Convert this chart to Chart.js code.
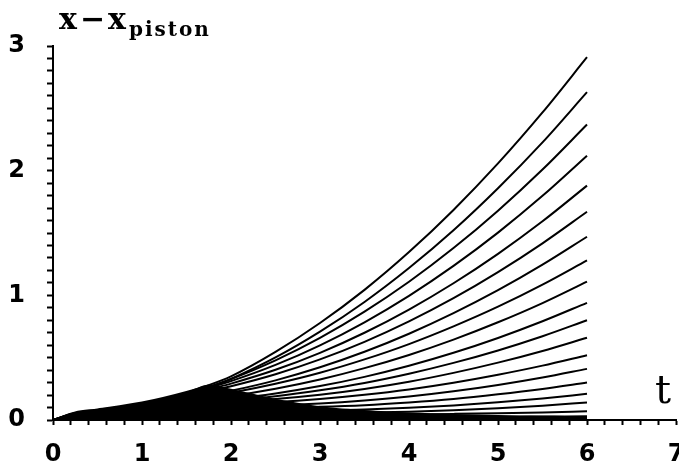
<!DOCTYPE html>
<html>
<head>
<meta charset="utf-8">
<script src="https://cdn.jsdelivr.net/npm/chart.js"></script>
<style>
  body { margin: 0; background: #fff; }
  #wrap { position: relative; width: 679px; height: 467px; }
  .lbl { position: absolute; font-family: "DejaVu Serif", serif; color: #000; line-height: 1; white-space: nowrap; }
</style>
</head>
<body>
<div id="wrap">
  <canvas id="myChart" width="679" height="467"></canvas>
  <div class="lbl" style="left:59px; top:4px; font-size:30px; font-weight:bold;">x<span style="margin:0 3px;">&minus;</span>x<span style="font-size:20px; letter-spacing:2px; margin-left:3px; position:relative; top:7px;">piston</span></div>
  <div class="lbl" style="left:655px; top:369px; font-size:40px;">t</div>
</div>
<script>
// time samples (t) shared by every curve
var tValues = [0, 0.25, 0.5, 1, 1.5, 1.75, 2, 2.5, 3, 3.5, 4, 4.5, 5, 5.5, 6];

// x - x_piston for each curve (top curve first)
var curve0  = [0, 0.060, 0.085, 0.140, 0.225, 0.280, 0.350, 0.546, 0.778, 1.044, 1.347, 1.685, 2.058, 2.467, 2.91];
var curve1  = [0, 0.053, 0.076, 0.125, 0.200, 0.254, 0.329, 0.502, 0.709, 0.947, 1.219, 1.522, 1.859, 2.227, 2.63];
var curve2  = [0, 0.056, 0.079, 0.131, 0.210, 0.266, 0.329, 0.479, 0.659, 0.869, 1.109, 1.379, 1.679, 2.009, 2.37];
var curve3  = [0, 0.054, 0.077, 0.127, 0.204, 0.258, 0.312, 0.442, 0.599, 0.784, 0.996, 1.236, 1.503, 1.798, 2.12];
var curve4  = [0, 0.052, 0.073, 0.120, 0.194, 0.245, 0.292, 0.403, 0.539, 0.700, 0.886, 1.097, 1.333, 1.594, 1.88];
var curve5  = [0, 0.049, 0.069, 0.114, 0.183, 0.232, 0.271, 0.367, 0.486, 0.627, 0.791, 0.977, 1.186, 1.417, 1.67];
var curve6  = [0, 0.042, 0.059, 0.098, 0.157, 0.199, 0.234, 0.318, 0.423, 0.547, 0.692, 0.857, 1.041, 1.246, 1.47];
var curve7  = [0, 0.040, 0.057, 0.094, 0.151, 0.191, 0.219, 0.291, 0.379, 0.486, 0.609, 0.751, 0.909, 1.086, 1.28];
var curve8  = [0, 0.036, 0.050, 0.083, 0.133, 0.169, 0.192, 0.251, 0.325, 0.416, 0.522, 0.645, 0.784, 0.938, 1.11];
var curve9  = [0, 0.032, 0.046, 0.075, 0.121, 0.153, 0.169, 0.213, 0.272, 0.346, 0.435, 0.539, 0.658, 0.792, 0.94];
var curve10 = [0, 0.031, 0.044, 0.072, 0.116, 0.147, 0.159, 0.191, 0.238, 0.297, 0.371, 0.458, 0.558, 0.672, 0.80];
var curve11 = [0, 0.029, 0.042, 0.069, 0.110, 0.140, 0.147, 0.169, 0.203, 0.249, 0.307, 0.378, 0.460, 0.554, 0.66];
var curve12 = [0, 0.027, 0.038, 0.062, 0.100, 0.127, 0.131, 0.144, 0.168, 0.202, 0.245, 0.299, 0.363, 0.436, 0.52];
var curve13 = [0, 0.023, 0.033, 0.054, 0.088, 0.111, 0.111, 0.117, 0.132, 0.156, 0.188, 0.230, 0.281, 0.341, 0.41];
var curve14 = [0, 0.022, 0.031, 0.051, 0.082, 0.104, 0.101, 0.099, 0.106, 0.119, 0.141, 0.169, 0.206, 0.249, 0.30];
var curve15 = [0, 0.018, 0.026, 0.042, 0.068, 0.086, 0.081, 0.077, 0.077, 0.085, 0.098, 0.117, 0.142, 0.173, 0.21];
var curve16 = [0, 0.017, 0.024, 0.039, 0.063, 0.080, 0.073, 0.064, 0.060, 0.061, 0.067, 0.078, 0.094, 0.115, 0.14];
var curve17 = [0, 0.013, 0.018, 0.030, 0.047, 0.060, 0.055, 0.047, 0.042, 0.043, 0.045, 0.049, 0.054, 0.061, 0.07];
var curve18 = [0, 0.008, 0.012, 0.020, 0.032, 0.040, 0.035, 0.028, 0.022, 0.021, 0.022, 0.024, 0.026, 0.028, 0.03];
var curve19 = [0, 0.004, 0.006, 0.010, 0.016, 0.020, 0.018, 0.014, 0.011, 0.010, 0.010, 0.010, 0.010, 0.010, 0.01];

// the solid black region where the curves crowd together
var denseT = [0, 0.1, 0.2, 0.4, 0.6, 0.8, 1.0, 1.2, 1.5, 1.75, 2.0, 2.5, 3.0, 3.5, 4.0, 5.0, 6.0];
var denseY = [0, 0.03, 0.055, 0.075, 0.09, 0.11, 0.14, 0.17, 0.225, 0.285, 0.25, 0.17, 0.11, 0.08, 0.06, 0.04, 0.03];

var xTickLabels = ['0', '1', '2', '3', '4', '5', '6', '7'];
var yTickLabels = ['0', '1', '2', '3'];

var curves = [curve0, curve1, curve2, curve3, curve4, curve5, curve6, curve7, curve8, curve9,
              curve10, curve11, curve12, curve13, curve14, curve15, curve16, curve17, curve18, curve19];

function toPoints(xs, ys) {
    return xs.map(function (x, i) { return { x: x, y: ys[i] }; });
}

function majorLabel(labels) {
    return function (value) {
        var r = Math.round(value);
        if (Math.abs(value - r) < 1e-6 && labels[r] !== undefined) return labels[r];
        return '';
    };
}

var datasets = [{
    data: toPoints(denseT, denseY),
    borderWidth: 0,
    borderColor: '#000',
    backgroundColor: '#000',
    fill: 'origin',
    tension: 0.3,
    cubicInterpolationMode: 'default'
}];
curves.forEach(function (c) {
    datasets.push({ data: toPoints(tValues, c), fill: false });
});

var ctx = document.getElementById('myChart').getContext('2d');
var myChart = new Chart(ctx, {
    type: 'line',
    data: { datasets: datasets },
    options: {
        responsive: false,
        animation: false,
        layout: { padding: { left: 0, top: 46, right: 3, bottom: 0 } },
        plugins: {
            legend: { display: false },
            tooltip: { enabled: false },
            title: { display: false }
        },
        elements: {
            point: { radius: 0 },
            line: { borderWidth: 2, borderColor: '#000', tension: 0.4, cubicInterpolationMode: 'monotone' }
        },
        scales: {
            x: {
                type: 'linear',
                min: 0,
                max: 7,
                afterFit: function (s) { s.height = 47; s.paddingLeft = 0; s.paddingRight = 0; },
                border: { color: '#000', width: 2 },
                grid: { drawOnChartArea: false, drawTicks: true, tickLength: 5, tickWidth: 2, color: '#000' },
                ticks: {
                    stepSize: 0.2,
                    autoSkip: false,
                    maxRotation: 0,
                    padding: 15,
                    color: '#000',
                    font: { family: 'DejaVu Sans', size: 24, weight: 'bold' },
                    callback: majorLabel(xTickLabels)
                }
            },
            y: {
                type: 'linear',
                min: 0,
                max: 3,
                afterFit: function (s) { s.width = 53; s.paddingTop = 0; s.paddingBottom = 0; },
                border: { color: '#000', width: 2 },
                grid: { drawOnChartArea: false, drawTicks: true, tickLength: 6, tickWidth: 2, color: '#000' },
                ticks: {
                    stepSize: 0.1,
                    autoSkip: false,
                    padding: 22,
                    color: '#000',
                    font: { family: 'DejaVu Sans', size: 24, weight: 'bold' },
                    callback: majorLabel(yTickLabels)
                }
            }
        }
    }
});
</script>
</body>
</html>
